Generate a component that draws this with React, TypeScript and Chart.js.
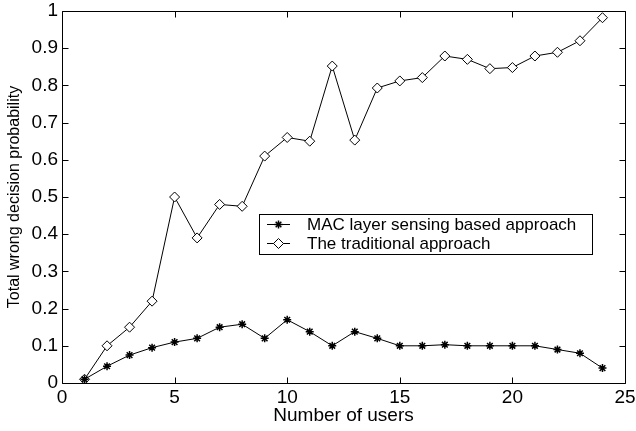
import React, { useEffect, useRef } from "react";
import { Chart, registerables } from "chart.js";

Chart.register(...registerables);

const users = [1, 2, 3, 4, 5, 6, 7, 8, 9, 10, 11, 12, 13, 14, 15, 16, 17, 18, 19, 20, 21, 22, 23, 24];
const macLayer = [0.01, 0.045, 0.075, 0.095, 0.11, 0.12, 0.15, 0.158, 0.12, 0.17, 0.138, 0.1, 0.138, 0.12, 0.1, 0.1, 0.103, 0.1, 0.1, 0.1, 0.1, 0.09, 0.08, 0.04];
const traditional = [0.01, 0.1, 0.15, 0.22, 0.5, 0.39, 0.48, 0.475, 0.61, 0.66, 0.65, 0.852, 0.653, 0.793, 0.812, 0.821, 0.879, 0.87, 0.845, 0.848, 0.879, 0.889, 0.92, 0.982];
const xTickLabels = ["0", "5", "10", "15", "20", "25"];
const yTickLabels = ["0", "0.1", "0.2", "0.3", "0.4", "0.5", "0.6", "0.7", "0.8", "0.9", "1"];
const seriesNames = ["MAC layer sensing based approach", "The traditional approach"];

const FONT = "'Liberation Sans', Arial, Helvetica, sans-serif";

function drawMarker(ctx: CanvasRenderingContext2D, style: string, x: number, y: number, r: number) {
  ctx.beginPath();
  if (style === "star") {
    for (let k = 0; k < 4; k++) {
      const a = (k * Math.PI) / 4;
      ctx.moveTo(x - Math.cos(a) * r, y - Math.sin(a) * r);
      ctx.lineTo(x + Math.cos(a) * r, y + Math.sin(a) * r);
    }
    ctx.stroke();
  } else {
    ctx.moveTo(x, y - r);
    ctx.lineTo(x + r, y);
    ctx.lineTo(x, y + r);
    ctx.lineTo(x - r, y);
    ctx.closePath();
    ctx.fill();
    ctx.stroke();
  }
}

const axesPlugin = {
  id: "matlabAxes",
  beforeDatasetsDraw(chart: any) {
    const { ctx, chartArea, scales } = chart;
    const l = Math.round(chartArea.left) + 0.5;
    const r = Math.round(chartArea.right) + 0.5;
    const t = Math.round(chartArea.top) + 0.5;
    const b = Math.round(chartArea.bottom) + 0.5;
    ctx.save();
    ctx.strokeStyle = "#000";
    ctx.lineWidth = 1;
    ctx.beginPath();
    ctx.rect(l, t, r - l, b - t);
    const tl = 6;
    scales.x.ticks.forEach((tk: any) => {
      const px = Math.round(scales.x.getPixelForValue(tk.value)) + 0.5;
      ctx.moveTo(px, b);
      ctx.lineTo(px, b - tl);
      ctx.moveTo(px, t);
      ctx.lineTo(px, t + tl);
    });
    scales.y.ticks.forEach((tk: any) => {
      const py = Math.round(scales.y.getPixelForValue(tk.value)) + 0.5;
      ctx.moveTo(l, py);
      ctx.lineTo(l + tl, py);
      ctx.moveTo(r, py);
      ctx.lineTo(r - tl, py);
    });
    ctx.stroke();
    ctx.restore();
  },
};

const legendPlugin = {
  id: "matlabLegend",
  afterDraw(chart: any) {
    const { ctx } = chart;
    const bx = 259.5, by = 214.5, bw = 333, bh = 40;
    ctx.save();
    ctx.fillStyle = "#fff";
    ctx.fillRect(bx, by, bw, bh);
    ctx.strokeStyle = "#000";
    ctx.lineWidth = 1;
    ctx.strokeRect(bx, by, bw, bh);
    const rows = [224, 243];
    const styles = ["star", "rectRot"];
    rows.forEach((ry, i) => {
      ctx.strokeStyle = "#000";
      ctx.lineWidth = 1;
      ctx.beginPath();
      ctx.moveTo(267, ry + 0.5);
      ctx.lineTo(290, ry + 0.5);
      ctx.stroke();
      ctx.fillStyle = "#fff";
      ctx.lineWidth = i === 0 ? 1.5 : 1;
      drawMarker(ctx, styles[i], 278.5, ry + 0.5, i === 0 ? 4 : 5);
      ctx.fillStyle = "#000";
      ctx.font = `17px ${FONT}`;
      ctx.textBaseline = "middle";
      ctx.textAlign = "left";
      ctx.fillText(seriesNames[i], 307, ry + 1);
    });
    ctx.restore();
  },
};

function zeroPad(s: any) {
  s.paddingTop = 0;
  s.paddingBottom = 0;
  s.paddingLeft = 0;
  s.paddingRight = 0;
}

export default function App() {
  const ref = useRef<HTMLCanvasElement>(null);
  useEffect(() => {
    if (!ref.current) return;
    const chart = new Chart(ref.current, {
      type: "line",
      data: {
        datasets: [
          {
            label: seriesNames[0],
            data: users.map((u, i) => ({ x: u, y: macLayer[i] })),
            borderColor: "#000",
            borderWidth: 1,
            pointStyle: "star",
            pointRadius: 4,
            pointBorderWidth: 1.5,
            pointBorderColor: "#000",
            pointBackgroundColor: "#000",
            tension: 0,
          },
          {
            label: seriesNames[1],
            data: users.map((u, i) => ({ x: u, y: traditional[i] })),
            borderColor: "#000",
            borderWidth: 1,
            pointStyle: "rectRot",
            pointRadius: 5,
            pointBorderWidth: 1,
            pointBorderColor: "#000",
            pointBackgroundColor: "#fff",
            tension: 0,
          },
        ],
      },
      options: {
        animation: false,
        responsive: false,
        layout: { padding: { top: 11, right: 11, left: 0, bottom: 0 } },
        plugins: { legend: { display: false }, tooltip: { enabled: false } },
        scales: {
          x: {
            type: "linear",
            min: 0,
            max: 25,
            afterFit: (s: any) => { s.height = 48; zeroPad(s); },
            grid: { display: false, drawTicks: false },
            border: { display: false },
            ticks: {
              stepSize: 5,
              padding: 3,
              color: "#000",
              maxRotation: 0,
              font: { family: FONT, size: 19 },
              callback: (_v: any, i: number) => xTickLabels[i],
            },
            title: {
              display: true,
              text: "Number of users",
              color: "#000",
              font: { family: FONT, size: 19 },
              padding: { top: 0, bottom: 4 },
            },
          },
          y: {
            min: 0,
            max: 1,
            afterFit: (s: any) => { s.width = 62; zeroPad(s); },
            grid: { display: false, drawTicks: false },
            border: { display: false },
            ticks: {
              stepSize: 0.1,
              padding: 4,
              color: "#000",
              font: { family: FONT, size: 19 },
              callback: (_v: any, i: number) => yTickLabels[i],
            },
            title: {
              display: true,
              text: "Total wrong decision probability",
              color: "#000",
              font: { family: FONT, size: 16 },
              padding: { top: 5, bottom: 0 },
            },
          },
        },
      },
      plugins: [axesPlugin, legendPlugin],
    });
    return () => chart.destroy();
  }, []);
  return (
    <div style={{ position: "fixed", left: 0, top: 0, width: 636, height: 431, background: "#fff" }}>
      <canvas ref={ref} width={636} height={431} style={{ display: "block" }} />
    </div>
  );
}
